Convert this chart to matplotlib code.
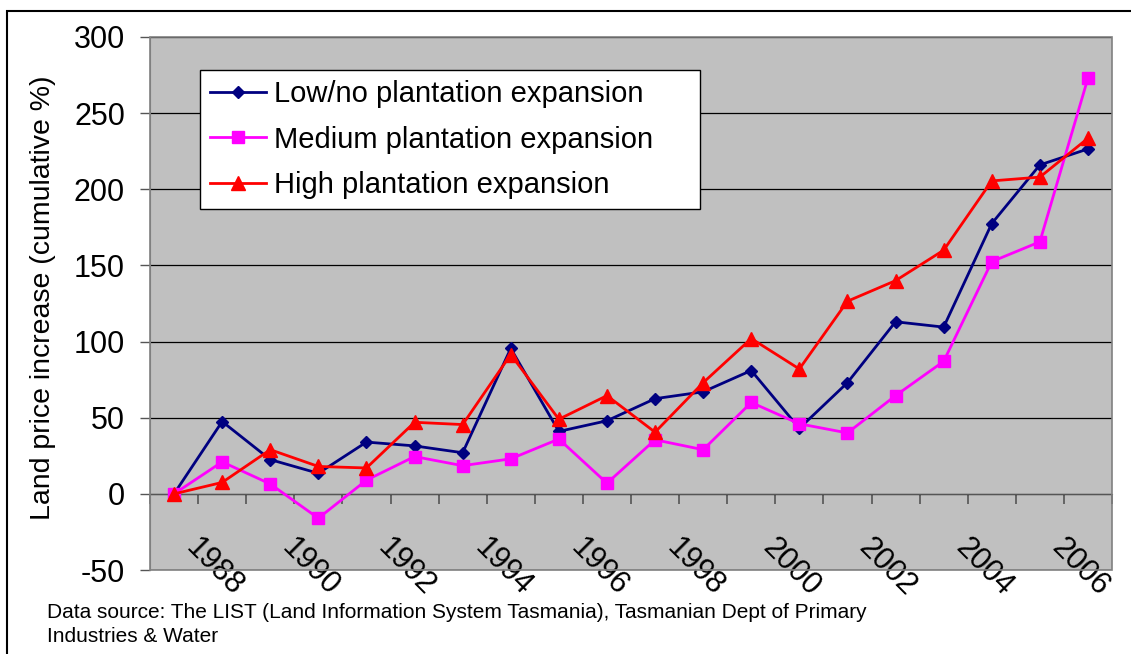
import matplotlib.pyplot as plt
import numpy as np
from matplotlib.patches import Rectangle
from matplotlib.transforms import ScaledTranslation

plt.rcParams['font.family'] = ['Liberation Sans', 'DejaVu Sans']
plt.rcParams['axes.unicode_minus'] = False

years = list(range(1987, 2007))
low_expansion = [0, 47.5, 22.5, 13.5, 34, 31.5, 27, 95.5, 41, 48, 62.5, 67, 81, 43,
                 73, 113, 109.5, 177.5, 216, 226.5]
medium_expansion = [0, 21, 6.5, -16, 9, 24.5, 18.5, 23, 36, 7, 35.5, 29, 60, 46,
                    40, 64.5, 87, 152.5, 165.5, 273]
high_expansion = [0, 7.5, 29, 18, 17, 47, 45.5, 91.5, 49, 64.5, 40.5, 73, 102, 82,
                  126.5, 140, 160, 205.5, 208, 233.5]
series_names = ["Low/no plantation expansion", "Medium plantation expansion",
                "High plantation expansion"]

x = np.arange(len(years))

fig = plt.figure(figsize=(11.31, 6.54), dpi=100)
ax = fig.add_axes([150 / 1131, 84 / 654, 962 / 1131, 533 / 654])
ax.set_facecolor('#C0C0C0')

ax.plot(x, low_expansion, color='#000080', lw=2, marker='D', ms=6.5,
        label=series_names[0], zorder=3)
ax.plot(x, medium_expansion, color='#FF00FF', lw=2, marker='s', ms=9,
        label=series_names[1], zorder=3)
ax.plot(x, high_expansion, color='#FF0000', lw=2, marker='^', ms=10,
        label=series_names[2], zorder=3)

ax.set_xlim(-0.5, len(years) - 0.5)
ax.set_ylim(-50, 300)
ax.set_yticks(np.arange(-50, 301, 50))
ax.yaxis.grid(True, color='black', lw=0.9)
ax.set_axisbelow(True)

# category axis sits on the zero line, ticks between categories
for side in ['top', 'right']:
    ax.spines[side].set_visible(False)
ax.spines['bottom'].set_position(('data', 0))
ax.spines['bottom'].set_color('#555555')
ax.spines['left'].set_color('#808080')
ax.add_patch(Rectangle((0, 0), 1, 1, transform=ax.transAxes, fill=False,
                       edgecolor='#808080', lw=1.2, clip_on=False, zorder=4))

ax.set_xticks(x[1::2])
ax.set_xticklabels([str(y) for y in years[1::2]])
ax.set_xticks(np.arange(-0.5, len(years), 1), minor=True)
ax.tick_params(axis='x', which='major', length=0, pad=53, labelsize=22)
ax.tick_params(axis='x', which='minor', length=7, direction='out',
               color='#555555', width=1.2)
ax.tick_params(axis='y', length=7, direction='out', color='#555555', width=1,
               pad=11, labelsize=22)
shift = ScaledTranslation(-8 / 100, 0, fig.dpi_scale_trans)
for lbl in ax.get_xticklabels():
    lbl.set_rotation(-45)
    lbl.set_rotation_mode('anchor')
    lbl.set_ha('center')
    lbl.set_va('center')
    lbl.set_transform(lbl.get_transform() + shift)

ax.set_ylabel("Land price increase (cumulative %)", fontsize=20.5)
ax.yaxis.set_label_coords(-(150 - 56) / 962, 0.51)

leg = ax.legend(loc='upper left',
                bbox_to_anchor=(50 / 962, 362 / 533, 500 / 962, 138 / 533),
                mode='expand', borderaxespad=0, fontsize=21, frameon=True,
                fancybox=False, edgecolor='black', framealpha=1,
                handlelength=1.9, handletextpad=0.3, labelspacing=0.6,
                borderpad=0.35)
leg.get_frame().set_linewidth(1)
leg.set_zorder(5)

fig.text(47 / 1131, 1 - 603 / 654,
         "Data source: The LIST (Land Information System Tasmania), Tasmanian Dept of Primary\n"
         "Industries & Water", fontsize=15, va='top', ha='left', linespacing=1.3)

# outer chart border
fig.add_artist(Rectangle((7 / 1131, -0.1), 1.2, 1.1 - 11 / 654,
                         transform=fig.transFigure, fill=False,
                         edgecolor='black', lw=1.5))

fig.savefig('out.png', dpi=100)
